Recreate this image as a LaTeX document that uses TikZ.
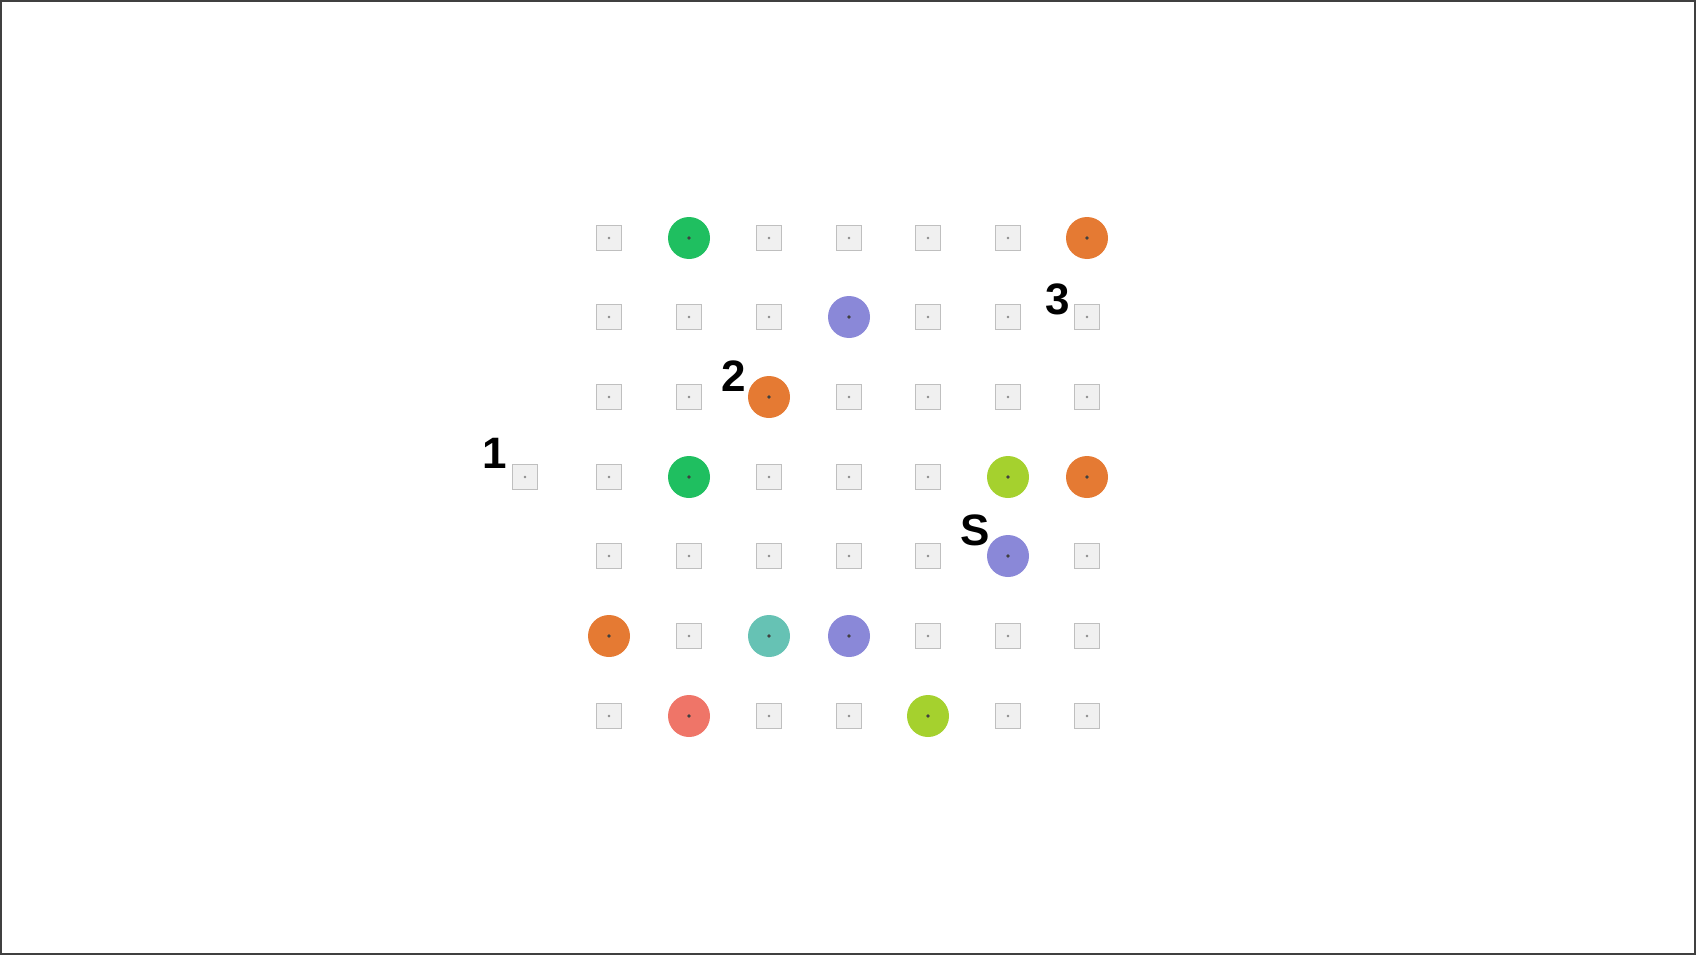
\documentclass[tikz,border=0pt]{standalone}
\usepackage{fontspec}
\setmainfont{Liberation Sans}
\begin{document}
\begin{tikzpicture}[x=1pt,y=-1pt,
  cell/.style={draw=black!25,fill=black!6,line width=1.6pt,minimum size=25pt,inner sep=0pt,shape=rectangle},
  dotc/.style={circle,minimum size=42pt,inner sep=0pt,draw=none},
  lbl/.style={font=\bfseries\fontsize{44}{44}\selectfont,inner sep=0pt,text=black},
  ]
\definecolor{cgreen}{HTML}{1FBF60}
\definecolor{corange}{HTML}{E57A33}
\definecolor{cpurple}{HTML}{8A88D8}
\definecolor{clime}{HTML}{A5D12E}
\definecolor{cteal}{HTML}{66C2B4}
\definecolor{csalmon}{HTML}{EF7568}
\useasboundingbox (0,0) rectangle (1696,955);
\draw[line width=2pt,black!75] (1,1) rectangle (1695,954);
\def\colx{{609,689,769,849,928,1008,1087}}
\def\rowy{{238,317,397,477,556,636,716}}
% grid of cells
\foreach \r in {0,...,6}{
  \foreach \c in {0,...,6}{
    \pgfmathsetmacro{\xx}{\colx[\c]}
    \pgfmathsetmacro{\yy}{\rowy[\r]}
    \node[cell] (s\r\c) at (\xx,\yy) {};
    \fill[black!45] (s\r\c.center) circle (1.4pt);
  }
}
\node[cell] (sx) at (525,477) {};
\fill[black!45] (sx.center) circle (1.4pt);
% coloured discs
\foreach \r/\c/\col in {0/1/cgreen,0/6/corange,1/3/cpurple,2/2/corange,3/1/cgreen,3/5/clime,3/6/corange,4/5/cpurple,5/0/corange,5/2/cteal,5/3/cpurple,6/1/csalmon,6/4/clime}{
  \node[dotc,fill=white] at (s\r\c) {};
  \node[dotc,fill=\col] (d\r\c) at (s\r\c) {};
  \fill[black!75] (d\r\c.center) circle (1.8pt);
}
% labels
\node[lbl] (l1) at (494.5,453) {1};
\node[lbl] (l2) at (733.5,376) {2};
\node[lbl] (l3) at (1058,299) {3};
\node[lbl] (lS) at (975,530.5) {S};
\end{tikzpicture}
\end{document}
